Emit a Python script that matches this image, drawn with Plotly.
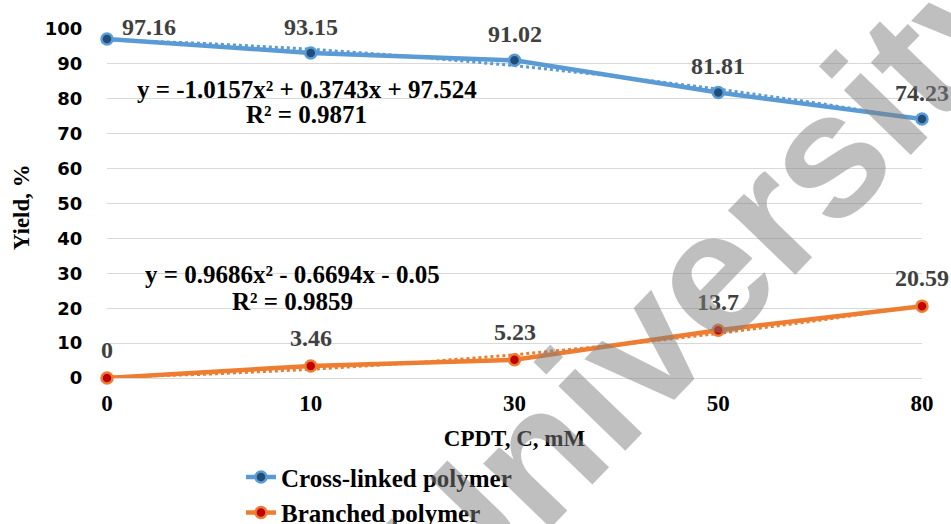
import numpy as np
import plotly.graph_objects as go

# ---- data ----
categories = ["0", "10", "30", "50", "80"]
cross_linked = [97.16, 93.15, 91.02, 81.81, 74.23]
branched = [0, 3.46, 5.23, 13.7, 20.59]
series_names = ["Cross-linked polymer", "Branched polymer"]
y_ticks = [0, 10, 20, 30, 40, 50, 60, 70, 80, 90, 100]
cross_eq = "y = -1.0157x² + 0.3743x + 97.524"
cross_r2 = "R² = 0.9871"
branched_eq = "y = 0.9686x² - 0.6694x - 0.05"
branched_r2 = "R² = 0.9859"
x_title = "CPDT, C, mM"
y_title = "Yield, %"
watermark = "University"

# ---- styles ----
SERIF = "Liberation Serif, Times New Roman, serif"
SANS = "DejaVu Sans, sans-serif"
blue, blue_dark = "#5B9BD5", "#1F4E79"
orange, red = "#ED7D31", "#C00000"

xs = np.arange(len(categories))
fig = go.Figure()

def add_series(vals, name, color, mcolor):
    vals = np.asarray(vals, dtype=float)
    # polynomial (order 2) trendline, Excel style (x = 1..n)
    coeffs = np.polyfit(xs + 1, vals, 2)
    xf = np.linspace(1, len(xs), 120)
    fig.add_trace(go.Scatter(x=xf - 1, y=np.polyval(coeffs, xf), mode="lines",
                             line=dict(color=color, width=3, dash="dot"),
                             showlegend=False, hoverinfo="skip", cliponaxis=False))
    fig.add_trace(go.Scatter(x=xs, y=vals, mode="lines+markers", name=name,
                             line=dict(color=color, width=4.5),
                             marker=dict(size=11, color=mcolor, line=dict(color=color, width=2.5)),
                             cliponaxis=False))

add_series(cross_linked, series_names[0], blue, blue_dark)
add_series(branched, series_names[1], orange, red)

# data labels
label_font = dict(family=SERIF, size=24, color="#404040", weight="bold")
for i, v in enumerate(cross_linked):
    first = i == 0
    fig.add_annotation(x=xs[i], y=v, text=f"{v:g}", showarrow=False,
                       yshift=12 if first else 26, xshift=42 if first else 0,
                       xanchor="center", yanchor="middle", font=label_font)
for i, v in enumerate(branched):
    fig.add_annotation(x=xs[i], y=v, text=f"{v:g}", showarrow=False, yshift=28,
                       xanchor="center", yanchor="middle", font=label_font)

# trendline equations
eq_font = dict(family=SERIF, size=25, color="#000000", weight="bold")
fig.add_annotation(x=0.98, y=82.8, text=cross_eq, showarrow=False, font=eq_font,
                   xanchor="center", yanchor="middle")
fig.add_annotation(x=0.98, y=75.4, text=cross_r2, showarrow=False, font=eq_font,
                   xanchor="center", yanchor="middle")
fig.add_annotation(x=0.91, y=29.8, text=branched_eq, showarrow=False, font=eq_font,
                   xanchor="center", yanchor="middle")
fig.add_annotation(x=0.91, y=21.8, text=branched_r2, showarrow=False, font=eq_font,
                   xanchor="center", yanchor="middle")

# y-axis title
fig.add_annotation(xref="paper", yref="paper", x=-0.104, y=0.49, text=y_title,
                   showarrow=False, textangle=-90, xanchor="center", yanchor="middle",
                   font=dict(family=SERIF, size=23, color="#000000", weight="bold"))

# watermark
fig.add_annotation(xref="paper", yref="paper", x=0.734, y=0.281, text=watermark,
                   showarrow=False, textangle=-46, xanchor="center", yanchor="middle",
                   font=dict(family="Liberation Sans, Arial, sans-serif", size=176,
                             color="rgba(128,128,128,0.5)", weight="bold"))

fig.update_layout(
    width=951, height=524,
    margin=dict(l=107, r=29, t=29, b=146, autoexpand=False),
    paper_bgcolor="white", plot_bgcolor="white",
    showlegend=True,
    legend=dict(xref="container", yref="container", x=0.2534, y=0.133,
                xanchor="left", yanchor="top", bgcolor="rgba(0,0,0,0)",
                font=dict(family=SERIF, size=25, color="#000000", weight="bold"),
                tracegroupgap=0),
    xaxis=dict(range=[0, len(categories) - 1], tickvals=xs, ticktext=categories,
               showgrid=False, zeroline=False, showline=False, automargin=False,
               ticks="outside", ticklen=4, tickcolor="rgba(0,0,0,0)",
               tickfont=dict(family=SERIF, size=23, color="#000000", weight="bold"),
               title=dict(text=x_title, standoff=15,
                          font=dict(family=SERIF, size=23, color="#000000", weight="bold"))),
    yaxis=dict(range=[0, 100], tickvals=y_ticks, showgrid=True, gridcolor="#D9D9D9",
               gridwidth=1.2, zeroline=True, zerolinecolor="#D9D9D9", zerolinewidth=1.2,
               showline=False, automargin=False, ticks="outside", ticklen=20,
               tickcolor="rgba(0,0,0,0)",
               tickfont=dict(family=SANS, size=18, color="#000000", weight="bold")),
)

fig.write_html("out.html", config={"displayModeBar": False},
               post_script="document.body.style.margin='0';")
